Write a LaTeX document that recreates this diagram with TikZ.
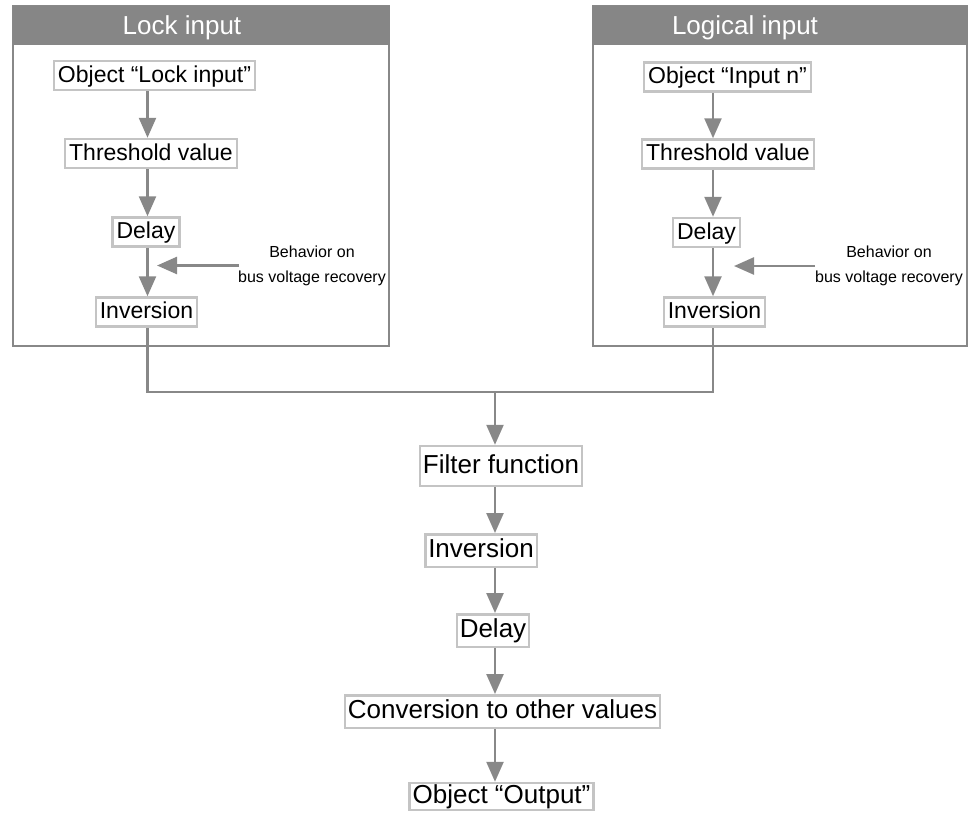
\documentclass[tikz,border=0pt]{standalone}
\usepackage{fontspec}
\setmainfont{Liberation Sans}
\usetikzlibrary{arrows.meta}
\definecolor{headgray}{HTML}{868686}
\definecolor{linegray}{HTML}{888888}
\definecolor{boxgray}{HTML}{C4C4C4}
\tikzset{
  flowarrow/.style={-{Triangle[length=20pt, width=17pt]}, draw=linegray, line width=2.5pt},
  flowline/.style={draw=linegray, line width=2.5pt},
  panel/.style={draw=linegray, line width=2pt},
  headbar/.style={fill=headgray},
  headtext/.style={text=white, font=\fontsize{26}{26}\selectfont, text height=18.7pt, text depth=0pt, inner sep=0pt},
  stepbox/.style={draw=boxgray, line width=2.5pt, fill=white, inner xsep=4pt, inner ysep=0pt, minimum height=29pt, text height=16.5pt, text depth=3.5pt, font=\fontsize{23}{23}\selectfont},
  stepbox2/.style={stepbox, minimum height=32.5pt, inner xsep=3pt, text height=18.7pt, text depth=4pt, font=\fontsize{26}{26}\selectfont},
  note/.style={align=center, font=\fontsize{16}{25}\selectfont, inner sep=0pt}
}
\begin{document}
\begin{tikzpicture}[x=1pt, y=-1pt]
  \useasboundingbox (0,0) rectangle (969,812);

  % input panels
  \draw[panel] (12.7,6) rectangle (389,346);
  \fill[headbar] (12.7,6) rectangle (390,45);
  \node[headtext] (lhead) at (182,25.5) {Lock input};
  \draw[panel] (592.5,6) rectangle (967,346);
  \fill[headbar] (591.5,6) rectangle (968,45);
  \node[headtext] (rhead) at (745,25.5) {Logical input};

  % lock input chain
  \coordinate (laxis) at (147.5,0);
  \node[stepbox] (lobj) at (154.5,75.5) {Object “Lock input”};
  \node[stepbox] (lthr) at (151,153.5) {Threshold value};
  \node[stepbox] (ldel) at (146,232) {Delay};
  \node[stepbox] (linv) at (146.5,312) {Inversion};
  \node[note] (lnote) at (312,265.5) {Behavior on\\bus voltage recovery};
  \coordinate (lrec) at (239,265.5);
  \coordinate (lhit) at (157,265.5);
  \draw[flowarrow] (lobj.south -| laxis) -- (lthr.north -| laxis);
  \draw[flowarrow] (lthr.south -| laxis) -- (ldel.north -| laxis);
  \draw[flowarrow] (ldel.south -| laxis) -- (linv.north -| laxis);
  \draw[flowarrow] (lrec) -- (lhit);

  % logical input chain
  \coordinate (raxis) at (713,0);
  \node[stepbox] (robj) at (727.5,77) {Object “Input n”};
  \node[stepbox] (rthr) at (728,154) {Threshold value};
  \node[stepbox] (rdel) at (706.5,232.5) {Delay};
  \node[stepbox] (rinv) at (714.5,312) {Inversion};
  \node[note] (rnote) at (889,265.5) {Behavior on\\bus voltage recovery};
  \coordinate (rrec) at (815,266);
  \coordinate (rhit) at (734,266);
  \draw[flowarrow] (robj.south -| raxis) -- (rthr.north -| raxis);
  \draw[flowarrow] (rthr.south -| raxis) -- (rdel.north -| raxis);
  \draw[flowarrow] (rdel.south -| raxis) -- (rinv.north -| raxis);
  \draw[flowarrow] (rrec) -- (rhit);

  % common chain
  \coordinate (join) at (495,392);
  \node[stepbox2, minimum height=40pt] (filt) at (501,466) {Filter function};
  \node[stepbox2] (cinv) at (481,550.5) {Inversion};
  \node[stepbox2] (cdel) at (493,630.5) {Delay};
  \node[stepbox2] (conv) at (502.5,711.5) {Conversion to other values};
  \node[stepbox2, minimum height=27pt] (cout) at (501.5,796.5) {Object “Output”};
  \draw[flowline] (linv.south -| laxis) |- (join) -| (rinv.south -| raxis);
  \draw[flowarrow] (join) -- (filt.north -| join);
  \draw[flowarrow] (filt.south -| join) -- (cinv.north -| join);
  \draw[flowarrow] (cinv.south -| join) -- (cdel.north -| join);
  \draw[flowarrow] (cdel.south -| join) -- (conv.north -| join);
  \draw[flowarrow] (conv.south -| join) -- (cout.north -| join);
\end{tikzpicture}
\end{document}
